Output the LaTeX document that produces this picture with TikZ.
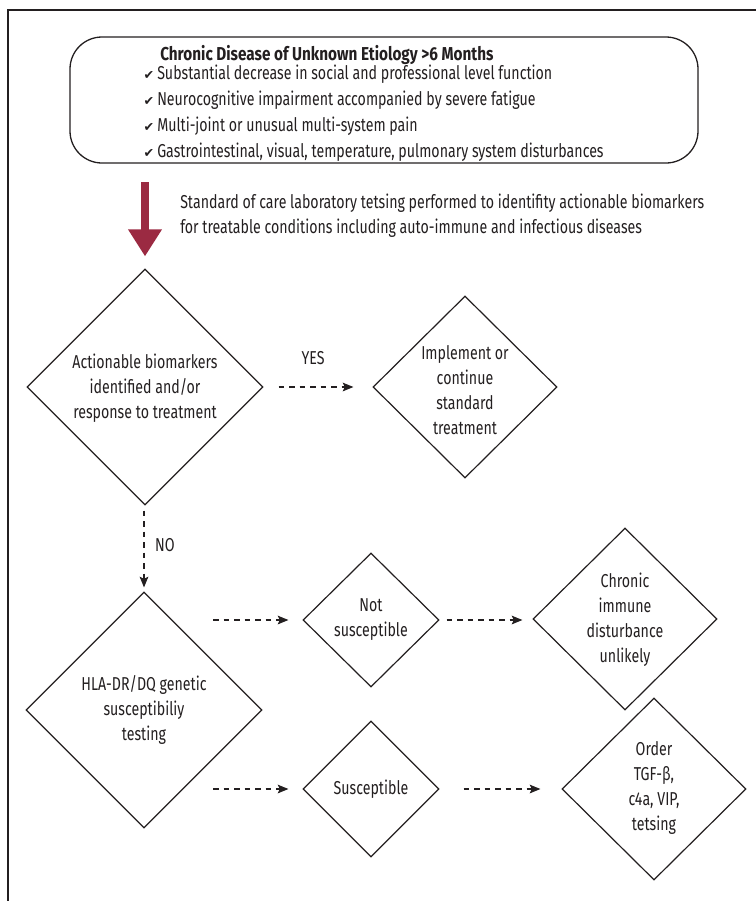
\documentclass[tikz,border=0pt]{standalone}
\usepackage{fontspec}
\setmainfont{Fira Sans}[FakeStretch=0.76, BoldFeatures={FakeStretch=0.82}]
\newfontfamily\checkfont{DejaVu Sans}
\usetikzlibrary{shapes.geometric,arrows.meta}
\newlength\pxu \setlength\pxu{0.75pt}
\definecolor{ink}{RGB}{35,31,32}
\definecolor{wine}{RGB}{155,42,66}
\tikzset{
  dia/.style={draw=ink, line width=1.2\pxu, diamond, aspect=1, inner sep=0pt},
  txt/.style={text=ink, font=\fontsize{14pt}{18.75pt}\selectfont, align=center, inner sep=0pt},
  chk/.style={text=ink, font=\checkfont\fontsize{9.5pt}{10pt}\selectfont, inner sep=0pt},
  dasharrow/.style={draw=ink, line width=1.1\pxu, dash pattern=on 5.5\pxu off 5\pxu,
    -{Stealth[length=8pt,width=6.5pt,inset=1.5pt]}},
}
\begin{document}
\begin{tikzpicture}[x=\pxu,y=-\pxu]
\useasboundingbox (0,0) rectangle (756,901);
% frame
\draw[ink, line width=1.5\pxu] (8,901) -- (8,10) -- (756,10);
% top box
\node[draw=ink, line width=1.3\pxu, rounded corners=32\pxu, minimum width=628\pxu, minimum height=126\pxu, inner sep=0pt] (box) at (384,100) {};
\node[txt, anchor=west, font=\bfseries\fontsize{14pt}{18.75pt}\selectfont] (title) at (160,55) {Chronic Disease of Unknown Etiology >6 Months};
\node[chk] (c1) at (149,75) {✔};
\node[chk] (c2) at (149,101) {✔};
\node[chk] (c3) at (149,127) {✔};
\node[chk] (c4) at (149,153) {✔};
\node[txt, anchor=west] (i1) at (157,74) {Substantial decrease in social and professional level function};
\node[txt, anchor=west] (i2) at (157,100) {Neurocognitive impairment accompanied by severe fatigue};
\node[txt, anchor=west] (i3) at (157,126) {Multi-joint or unusual multi-system pain};
\node[txt, anchor=west] (i4) at (157,152) {Gastrointestinal, visual, temperature, pulmonary system disturbances};
% standard of care text
\node[txt, anchor=west, align=left] (soc) at (180,215.5) {Standard of care laboratory tetsing performed to identifity actionable biomarkers\\for treatable conditions including auto-immune and infectious diseases};
% diamonds
\node[dia, minimum width=236\pxu, minimum height=236\pxu] (d1) at (145,387) {};
\node[txt] (d1t) at (145,388) {Actionable biomarkers\\identified and/or\\response to treatment};
\node[dia, minimum width=184\pxu, minimum height=182\pxu] (d2) at (465,387) {};
\node[txt] (d2t) at (465,390) {Implement or\\continue\\standard\\treatment};
\node[dia, minimum width=236\pxu, minimum height=236\pxu] (d3) at (144,710) {};
\node[txt] (d3t) at (144,710) {HLA-DR/DQ genetic\\susceptibiliy\\testing};
\node[dia, minimum width=136\pxu, minimum height=134\pxu] (d4) at (371,620) {};
\node[txt] (d4t) at (371,620) {Not\\susceptible};
\node[dia, minimum width=184\pxu, minimum height=182\pxu] (d5) at (625,619) {};
\node[txt] (d5t) at (625,620) {Chronic\\immune\\disturbance\\unlikely};
\node[dia, minimum width=136\pxu, minimum height=136\pxu] (d6) at (371,789) {};
\node[txt] (d6t) at (371,789) {Susceptible};
\node[dia, minimum width=184\pxu, minimum height=182\pxu] (d7) at (654,789) {};
\node[txt] (d7t) at (654,788) {Order\\TGF-β,\\c4a, VIP,\\tetsing};
% labels
\node[txt] (yes) at (313,358) {YES};
\node[txt] (no) at (165,545) {NO};
% red arrow
\coordinate (ra) at (145,182);
\draw[wine, line width=6pt, -{Triangle[length=20.25pt,width=24pt]}, shorten >=9pt] (ra) -- (d1.north);
% dashed connectors
\draw[dasharrow, shorten <=15\pxu, shorten >=19\pxu] (d1.east) -- (d2.west);
\draw[dasharrow, shorten <=5\pxu, shorten >=4\pxu] (d1.south -| d3.north) -- (d3.north);
\coordinate (s1) at (213,620);
\coordinate (s2) at (213,789);
\draw[dasharrow, shorten >=14\pxu] (s1) -- (d4.west);
\draw[dasharrow, shorten <=7\pxu, shorten >=10\pxu] (d4.east) -- (d5.west |- d4.east);
\draw[dasharrow, shorten >=14\pxu] (s2) -- (d6.west);
\draw[dasharrow, shorten <=24\pxu, shorten >=21\pxu] (d6.east) -- (d7.west);
\end{tikzpicture}
\end{document}
